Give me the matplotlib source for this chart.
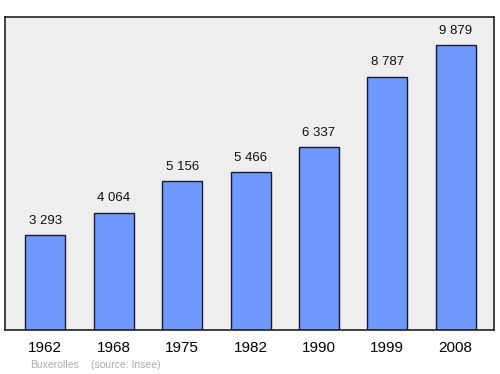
import matplotlib
matplotlib.use("Agg")
import matplotlib.pyplot as plt

years = ["1962", "1968", "1975", "1982", "1990", "1999", "2008"]
population = [3293, 4064, 5156, 5466, 6337, 8787, 9879]
value_labels = ["3 293", "4 064", "5 156", "5 466", "6 337", "8 787", "9 879"]

plt.rcParams["font.family"] = ["Liberation Sans", "DejaVu Sans"]

fig = plt.figure(figsize=(5, 3.74), dpi=100)
ax = fig.add_axes([0.01, 0.1176, 0.978, 0.837])
ax.set_facecolor("#eeeeee")

x = range(len(years))
bars = ax.bar(x, population, width=0.585, color="#7099ff", edgecolor="#1a1a2e", linewidth=1.0)

for bar, label in zip(bars, value_labels):
    ax.annotate(label, (bar.get_x() + bar.get_width() / 2, bar.get_height()),
                xytext=(0, 6), textcoords="offset points",
                ha="center", va="bottom", fontsize=9.5, color="#111111")

ax.set_xlim(-0.59, 6.56)
ax.set_ylim(0, 10850)
ax.set_xticks(list(x))
ax.set_xticklabels(years, fontsize=11)
ax.tick_params(axis="x", length=0, pad=8)
ax.set_yticks([])
for spine in ax.spines.values():
    spine.set_color("#222222")
    spine.set_linewidth(1.2)

fig.text(30 / 500, 1 - 365 / 374, "Buxerolles", fontsize=7.5, color="#aaaaaa", va="center")
fig.text(91 / 500, 1 - 365 / 374, "(source: Insee)", fontsize=7.5, color="#aaaaaa", va="center")

fig.savefig("out.png", dpi=100)
